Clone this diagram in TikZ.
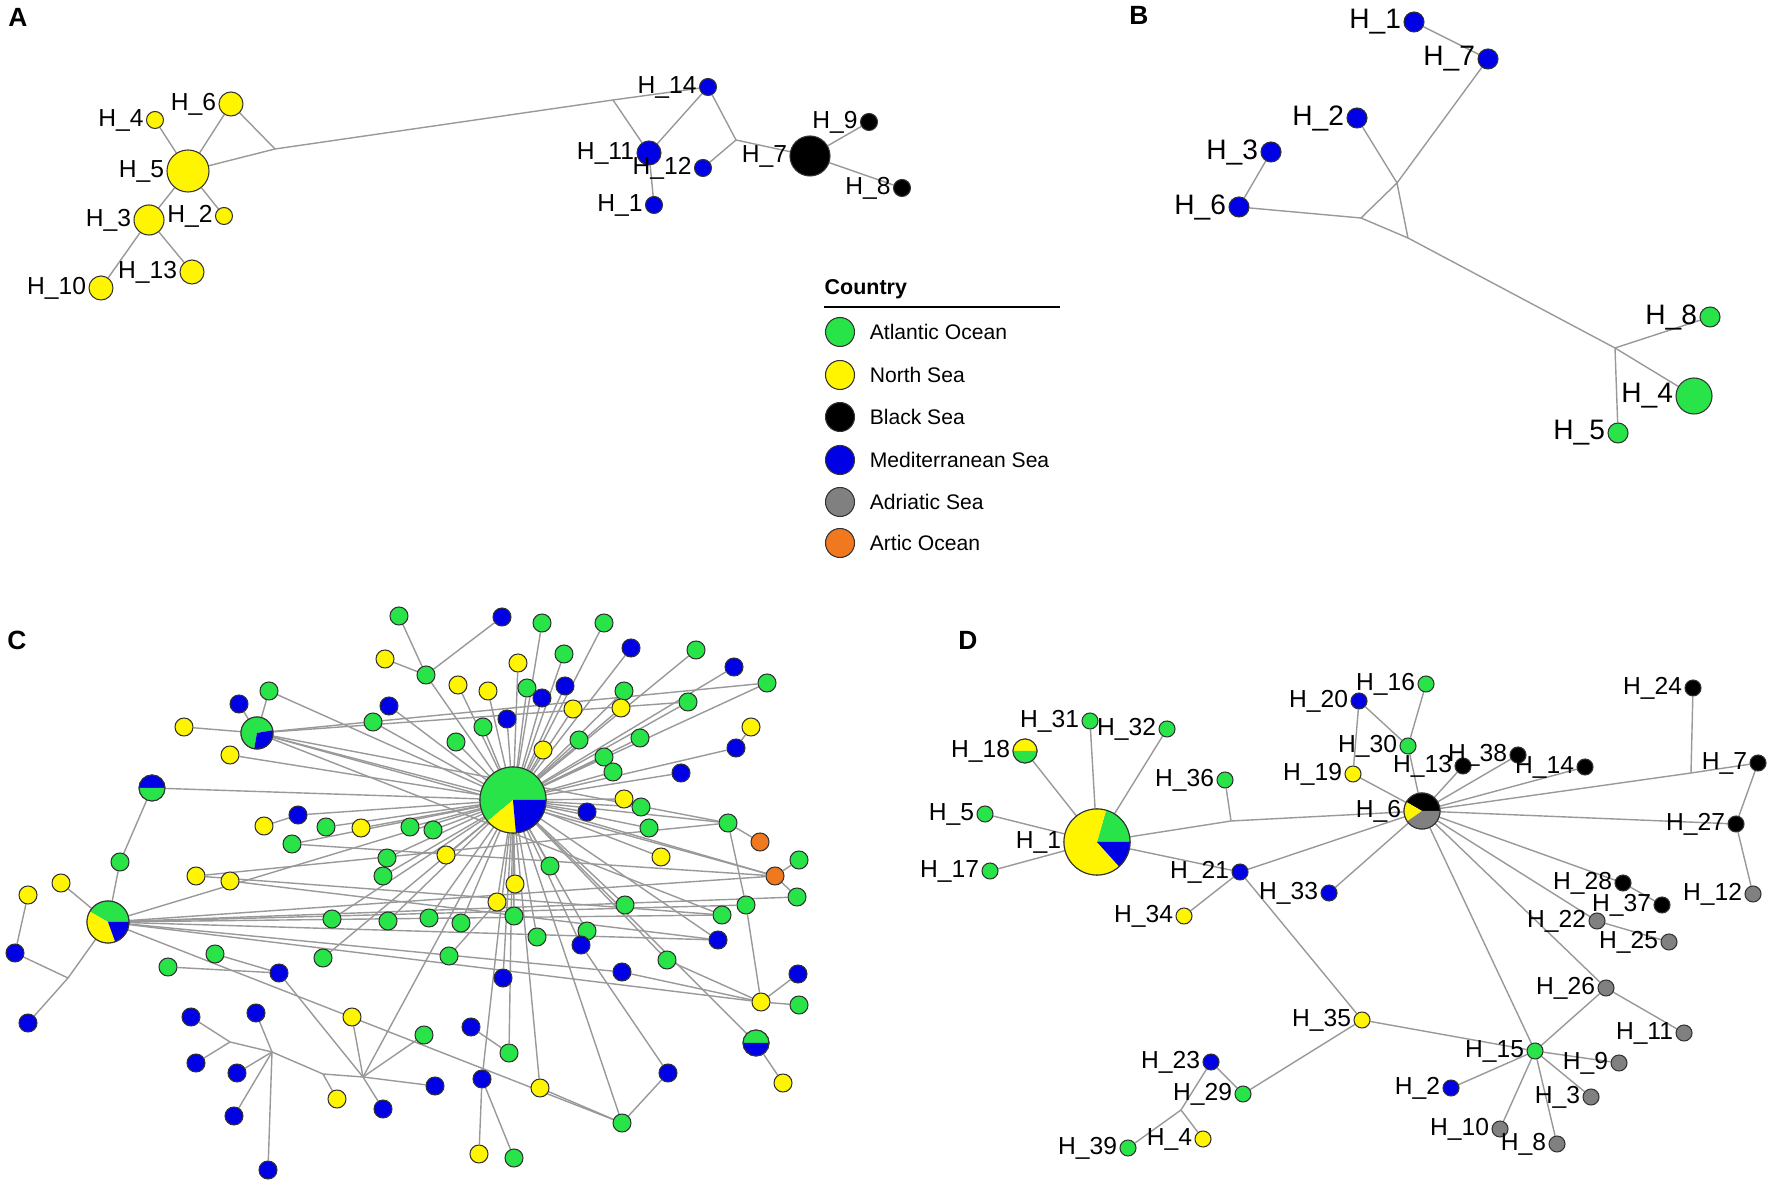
\documentclass[tikz,border=0pt]{standalone}
\usepackage{fontspec}
\setmainfont{Liberation Sans}
\usetikzlibrary{backgrounds}

\definecolor{colAtl}{RGB}{40,228,72}
\definecolor{colNth}{RGB}{255,245,0}
\definecolor{colBlk}{RGB}{0,0,0}
\definecolor{colMed}{RGB}{0,0,230}
\definecolor{colAdr}{RGB}{128,128,128}
\definecolor{colArc}{RGB}{240,120,30}

% wedge of a pie node: centre node, radius, start, end, colour
\newcommand{\piewedge}[5]{\fill[#5] (#1.center) -- ++(#3:#2) arc[start angle=#3, end angle=#4, radius=#2] -- cycle;}

\tikzset{
    link/.style={draw=black!40, line width=0.4pt},
    hap/.style={circle, draw=black!80, line width=0.3pt, inner sep=0pt, minimum size=#1},
    hap/.default=0.17cm,
    pieline/.style={draw=black!80, line width=0.3pt},
    lblA/.style={font=\fontsize{7}{8}\selectfont, inner sep=0.5pt},
    lblB/.style={font=\fontsize{8}{9}\selectfont, inner sep=0.5pt},
    legtxt/.style={font=\fontsize{6}{7}\selectfont, inner sep=0pt, label distance=4pt},
    panel/.style={font=\fontsize{7.5}{8}\selectfont\bfseries},
}

\begin{document}
\begin{tikzpicture}[x=0.01cm, y=-0.01cm]
    \useasboundingbox (0,0) rectangle (1772,1180);

    % --- Panel A ---
    \node[panel] (pA) at (18,17) {A};
    \node[hap=0.42cm, fill=colNth, label={[lblA]left:H\_5}] (A5) at (188,171) {};
    \node[hap, fill=colNth, label={[lblA]left:H\_4}] (A4) at (155,120) {};
    \node[hap=0.24cm, fill=colNth, label={[lblA]left:H\_6}] (A6) at (231,104) {};
    \node[hap=0.3cm, fill=colNth, label={[lblA]left:H\_3}] (A3) at (149,220) {};
    \node[hap, fill=colNth, label={[lblA]left:H\_2}] (A2) at (224,216) {};
    \node[hap=0.24cm, fill=colNth, label={[lblA]left:H\_13}] (A13) at (192,272) {};
    \node[hap=0.24cm, fill=colNth, label={[lblA]left:H\_10}] (A10) at (101,288) {};
    \node[hap, fill=colMed, label={[lblA]left:H\_14}] (A14) at (708,87) {};
    \node[hap=0.24cm, fill=colMed, label={[lblA]left:H\_11}] (A11) at (649,153) {};
    \node[hap, fill=colMed, label={[lblA]left:H\_12}] (A12) at (703,168) {};
    \node[hap, fill=colMed, label={[lblA]left:H\_1}] (A1) at (654,205) {};
    \node[hap=0.4cm, fill=colBlk, label={[lblA]left:H\_7}] (A7) at (810,156) {};
    \node[hap, fill=colBlk, label={[lblA]left:H\_9}] (A9) at (869,122) {};
    \node[hap, fill=colBlk, label={[lblA]left:H\_8}] (A8) at (902,188) {};
    \coordinate (jA1) at (275,149);
    \coordinate (jA2) at (613,100);
    \coordinate (jA3) at (736,140);
    \begin{scope}[on background layer]
        \foreach \n in {A4, A6, A3, A2, jA1} \draw[link] (A5) -- (\n);
        \draw[link] (A3) -- (A10);
        \draw[link] (A3) -- (A13);
        \draw[link] (jA1) -- (A6);
        \draw[link] (jA1) -- (jA2) -- (A14);
        \draw[link] (jA2) -- (A11);
        \draw[link] (A11) -- (A14);
        \draw[link] (A11) -- (A1);
        \draw[link] (A14) -- (jA3);
        \draw[link] (A12) -- (jA3);
        \draw[link] (jA3) -- (A7);
        \draw[link] (A7) -- (A9);
        \draw[link] (A7) -- (A8);
    \end{scope}

    % --- Legend ---
    \node[font=\fontsize{6.1}{7}\selectfont\bfseries, anchor=west, inner sep=0pt] (legtitle) at (824,289) {Country};
    \draw[line width=0.6pt] (824,307) -- (1060,307);
    \foreach \i/\y/\c/\t in {1/332/colAtl/Atlantic Ocean, 2/375/colNth/North Sea,
        3/417/colBlk/Black Sea, 4/460/colMed/Mediterranean Sea,
        5/502/colAdr/Adriatic Sea, 6/543/colArc/Artic Ocean} {
        \node[hap=0.29cm, fill=\c, label={[legtxt]right:\t}] (leg\i) at (840,\y) {};
    }

    % --- Panel B ---
    \node[panel] (pB) at (1139,15) {B};
    \node[hap=0.2cm, fill=colMed, label={[lblB]left:H\_1}] (B1) at (1414,22) {};
    \node[hap=0.2cm, fill=colMed, label={[lblB]left:H\_7}] (B7) at (1488,59) {};
    \node[hap=0.2cm, fill=colMed, label={[lblB]left:H\_2}] (B2) at (1357,118) {};
    \node[hap=0.2cm, fill=colMed, label={[lblB]left:H\_3}] (B3) at (1271,152) {};
    \node[hap=0.2cm, fill=colMed, label={[lblB]left:H\_6}] (B6) at (1239,207) {};
    \node[hap=0.2cm, fill=colAtl, label={[lblB]left:H\_8}] (B8) at (1710,317) {};
    \node[hap=0.36cm, fill=colAtl, label={[lblB]left:H\_4}] (B4) at (1694,396) {};
    \node[hap=0.2cm, fill=colAtl, label={[lblB]left:H\_5}] (B5) at (1618,433) {};
    \coordinate (jB1) at (1361,218);
    \coordinate (jB2) at (1397,183);
    \coordinate (jB3) at (1408,238);
    \coordinate (jB4) at (1615,348);
    \begin{scope}[on background layer]
        \draw[link] (B1) -- (B7);
        \draw[link] (B7) -- (jB2);
        \draw[link] (B2) -- (jB2);
        \draw[link] (jB2) -- (jB1) -- (jB3) -- cycle;
        \draw[link] (B3) -- (B6);
        \draw[link] (B6) -- (jB1);
        \draw[link] (jB3) -- (jB4);
        \foreach \n in {B8, B4, B5} \draw[link] (jB4) -- (\n);
    \end{scope}

    % --- Panel C ---
    \node[panel] (pC) at (17,640) {C};
    \foreach \n/\x/\y/\c in {c1/399/616/colAtl, c2/502/617/colMed, c3/542/623/colAtl,
        c4/604/623/colAtl, c5/631/648/colMed, c6/696/650/colAtl, c7/564/654/colAtl,
        c8/385/659/colNth, c9/518/663/colNth, c10/734/667/colMed, c11/426/675/colAtl,
        c12/767/683/colAtl, c13/458/685/colNth, c14/488/691/colNth, c15/527/688/colAtl,
        c16/565/686/colMed, c17/542/698/colMed, c18/624/691/colAtl, c19/621/708/colNth,
        c20/573/709/colNth, c21/688/702/colAtl, c22/389/706/colMed, c23/751/727/colNth,
        c24/483/727/colAtl, c25/507/719/colMed, c26/456/742/colAtl, c27/579/740/colAtl,
        c28/640/738/colAtl, c29/543/750/colNth, c30/736/748/colMed, c31/604/757/colAtl,
        c32/613/772/colAtl, c33/681/773/colMed, c34/624/799/colNth, c35/641/807/colAtl,
        c36/587/812/colMed, c37/649/828/colAtl, c38/410/827/colAtl, c39/433/830/colAtl,
        c40/728/823/colAtl, c41/760/842/colArc, c42/446/855/colNth, c43/661/857/colNth,
        c44/387/858/colAtl, c45/383/876/colAtl, c46/550/866/colAtl, c47/775/876/colArc,
        c48/799/860/colAtl, c49/515/884/colNth, c50/797/897/colAtl, c51/497/902/colNth,
        c52/625/905/colAtl, c53/746/905/colAtl, c54/722/915/colAtl, c55/388/921/colAtl,
        c56/429/918/colAtl, c57/461/923/colAtl, c58/514/916/colAtl, c59/537/937/colAtl,
        c60/587/931/colAtl, c61/581/945/colMed, c62/718/940/colMed, c63/449/956/colAtl,
        c64/667/960/colAtl, c65/622/972/colMed, c66/503/978/colMed, c67/798/974/colMed,
        c68/761/1002/colNth, c69/799/1005/colAtl, c71/783/1083/colNth, c72/424/1035/colAtl,
        c73/471/1027/colMed, c74/509/1053/colAtl, c75/435/1086/colMed, c76/482/1079/colMed,
        c77/540/1088/colNth, c78/668/1073/colMed, c79/622/1123/colAtl, c80/479/1154/colNth,
        c81/514/1158/colAtl, c82/383/1109/colMed, c83/269/691/colAtl, c84/239/704/colMed,
        c85/184/727/colNth, c86/230/755/colNth, c87/373/722/colAtl, c89/298/815/colMed,
        c90/264/826/colNth, c91/326/827/colAtl, c92/361/828/colNth, c93/292/844/colAtl,
        c95/120/862/colAtl, c96/196/876/colNth, c97/230/881/colNth, c98/61/883/colNth,
        c99/28/895/colNth, c100/15/953/colMed, c101/28/1023/colMed, c102/168/967/colAtl,
        c103/215/954/colAtl, c104/279/973/colMed, c105/332/919/colAtl, c106/323/958/colAtl,
        c107/191/1017/colMed, c108/256/1013/colMed, c109/196/1063/colMed, c110/237/1073/colMed,
        c111/234/1116/colMed, c112/268/1170/colMed, c113/352/1017/colNth, c114/337/1099/colNth} {
        \node[hap=0.18cm, fill=\c] (\n) at (\x,\y) {};
    }
    % pie nodes of panel C
    \node[hap=0.66cm] (hubA) at (513,800) {};
    \piewedge{hubA}{0.33cm}{0}{220}{colAtl}
    \piewedge{hubA}{0.33cm}{220}{275}{colNth}
    \piewedge{hubA}{0.33cm}{275}{360}{colMed}
    \draw[pieline] (hubA.center) circle[radius=0.33cm];
    \node[hap=0.32cm] (hubB) at (257,733) {};
    \piewedge{hubB}{0.16cm}{10}{260}{colAtl}
    \piewedge{hubB}{0.16cm}{260}{370}{colMed}
    \draw[pieline] (hubB.center) circle[radius=0.16cm];
    \node[hap=0.42cm] (hubC) at (108,922) {};
    \piewedge{hubC}{0.21cm}{0}{150}{colAtl}
    \piewedge{hubC}{0.21cm}{150}{290}{colNth}
    \piewedge{hubC}{0.21cm}{290}{360}{colMed}
    \draw[pieline] (hubC.center) circle[radius=0.21cm];
    \node[hap=0.26cm] (c88) at (152,788) {};
    \piewedge{c88}{0.13cm}{0}{180}{colMed}
    \piewedge{c88}{0.13cm}{180}{360}{colAtl}
    \draw[pieline] (c88.center) circle[radius=0.13cm];
    \node[hap=0.26cm] (c70) at (756,1043) {};
    \piewedge{c70}{0.13cm}{0}{180}{colAtl}
    \piewedge{c70}{0.13cm}{180}{360}{colMed}
    \draw[pieline] (c70.center) circle[radius=0.13cm];
    \coordinate (jC1) at (68,978);
    \coordinate (jC2) at (230,1042);
    \coordinate (jC3) at (272,1052);
    \coordinate (jC4) at (323,1074);
    \coordinate (jC5) at (363,1077);
    \begin{scope}[on background layer]
        \foreach \n in {c3,c4,c5,c6,c7,c9,c10,c11,c12,c13,c14,c15,c16,c17,c18,c19,c20,
            c21,c22,c24,c25,c26,c27,c28,c29,c30,c31,c32,c33,c34,c35,c36,c37,c38,c39,c40,
            c42,c43,c44,c45,c46,c47,c49,c51,c52,c55,c56,c57,c58,c59,c60,c61,c62,c64,c66,
            c70,c74,c76,c77,c79,c83,c86,c87,c88,c89,c91,c92,c93,c105,c106,hubB,hubC,jC5}
            \draw[link] (hubA) -- (\n);
        \foreach \n in {c83,c84,c85,c40,c47,c54,c21,c12} \draw[link] (hubB) -- (\n);
        \foreach \n in {c95,c98,jC1,c47,c53,c62,c65,c68,c54,c50,c79} \draw[link] (hubC) -- (\n);
        \foreach \n in {c1,c2,c8} \draw[link] (c11) -- (\n);
        \draw[link] (c88) -- (c95);
        \draw[link] (c99) -- (c100) -- (jC1) -- (c101);
        \foreach \n in {c102,c103,jC5} \draw[link] (c104) -- (\n);
        \foreach \n in {c107,c109,jC3} \draw[link] (jC2) -- (\n);
        \foreach \n in {c108,c110,c111,c112,jC4} \draw[link] (jC3) -- (\n);
        \draw[link] (jC4) -- (c114);
        \draw[link] (jC4) -- (jC5);
        \foreach \n in {c113,c82,c72,c75} \draw[link] (jC5) -- (\n);
        \draw[link] (c73) -- (c74);
        \draw[link] (c76) -- (c80);
        \draw[link] (c76) -- (c81);
        \draw[link] (c77) -- (c79);
        \draw[link] (c78) -- (c79);
        \draw[link] (c78) -- (c61);
        \draw[link] (c70) -- (c71);
        \foreach \n in {c67,c69,c64,c53,c65} \draw[link] (c68) -- (\n);
        \draw[link] (c53) -- (c40);
        \draw[link] (c40) -- (c41);
        \draw[link] (c47) -- (c48);
        \draw[link] (c47) -- (c50);
        \draw[link] (c23) -- (c30);
        \draw[link] (c89) -- (c90);
        \draw[link] (c93) -- (c47);
        \draw[link] (c96) -- (c40);
        \draw[link] (c96) -- (c54);
        \draw[link] (c97) -- (c62);
        \draw[link] (c63) -- (c51);
    \end{scope}

    % --- Panel D ---
    \node[panel] (pD) at (968,640) {D};
    \node[hap=0.66cm, label={[lblA]left:H\_1}] (D1) at (1097,842) {};
    \piewedge{D1}{0.33cm}{0}{74}{colAtl}
    \piewedge{D1}{0.33cm}{74}{312}{colNth}
    \piewedge{D1}{0.33cm}{312}{360}{colMed}
    \draw[pieline] (D1.center) circle[radius=0.33cm];
    \node[hap=0.24cm, label={[lblA]left:H\_18}] (D18) at (1025,751) {};
    \piewedge{D18}{0.12cm}{0}{180}{colNth}
    \piewedge{D18}{0.12cm}{180}{360}{colAtl}
    \draw[pieline] (D18.center) circle[radius=0.12cm];
    \node[hap=0.36cm, label={[lblA]left:H\_6}] (D6) at (1422,811) {};
    \piewedge{D6}{0.18cm}{0}{150}{colBlk}
    \piewedge{D6}{0.18cm}{150}{215}{colNth}
    \piewedge{D6}{0.18cm}{215}{360}{colAdr}
    \draw[pieline] (D6.center) circle[radius=0.18cm];
    \foreach \n/\t/\x/\y/\c in {D31/31/1090/721/colAtl, D32/32/1167/729/colAtl,
        D36/36/1225/780/colAtl, D5/5/985/814/colAtl, D17/17/990/871/colAtl,
        D21/21/1240/872/colMed, D34/34/1184/916/colNth, D33/33/1329/893/colMed,
        D20/20/1359/701/colMed, D16/16/1426/684/colAtl, D30/30/1408/746/colAtl,
        D19/19/1353/774/colNth, D13/13/1463/766/colBlk, D38/38/1518/755/colBlk,
        D14/14/1585/767/colBlk, D24/24/1693/688/colBlk, D7/7/1758/763/colBlk,
        D27/27/1736/824/colBlk, D12/12/1753/894/colAdr, D28/28/1623/883/colBlk,
        D37/37/1662/905/colBlk, D22/22/1597/921/colAdr, D25/25/1669/942/colAdr,
        D26/26/1606/988/colAdr, D11/11/1684/1033/colAdr, D15/15/1535/1051/colAtl,
        D9/9/1619/1063/colAdr, D3/3/1591/1097/colAdr, D2/2/1451/1088/colMed,
        D10/10/1500/1129/colAdr, D8/8/1557/1144/colAdr, D35/35/1362/1020/colNth,
        D23/23/1211/1062/colMed, D29/29/1243/1094/colAtl, D39/39/1128/1148/colAtl,
        D4/4/1203/1139/colNth} {
        \node[hap=0.16cm, fill=\c, label={[lblA]left:H\_\t}] (\n) at (\x,\y) {};
    }
    \coordinate (jD1) at (1231,821);
    \coordinate (jD2) at (1691,773);
    \coordinate (jD3) at (1181,1110);
    \begin{scope}[on background layer]
        \foreach \n in {D18,D31,D32,D5,D17,jD1,D21} \draw[link] (D1) -- (\n);
        \draw[link] (jD1) -- (D36);
        \draw[link] (jD1) -- (D6);
        \draw[link] (D21) -- (D34);
        \draw[link] (D21) -- (D35);
        \foreach \n in {D21,D33,D30,D19,D13,D38,D14,jD2,D27,D28,D22,D26,D15}
            \draw[link] (D6) -- (\n);
        \draw[link] (D20) -- (D19);
        \draw[link] (D20) -- (D30);
        \draw[link] (D16) -- (D30);
        \draw[link] (jD2) -- (D7);
        \draw[link] (jD2) -- (D24);
        \draw[link] (D7) -- (D27);
        \draw[link] (D27) -- (D12);
        \draw[link] (D28) -- (D37);
        \draw[link] (D22) -- (D25);
        \draw[link] (D26) -- (D11);
        \draw[link] (D26) -- (D15);
        \foreach \n in {D35,D2,D9,D3,D10,D8} \draw[link] (D15) -- (\n);
        \draw[link] (D35) -- (D29);
        \draw[link] (D23) -- (D29);
        \draw[link] (D23) -- (jD3);
        \draw[link] (jD3) -- (D39);
        \draw[link] (jD3) -- (D4);
    \end{scope}
\end{tikzpicture}
\end{document}
